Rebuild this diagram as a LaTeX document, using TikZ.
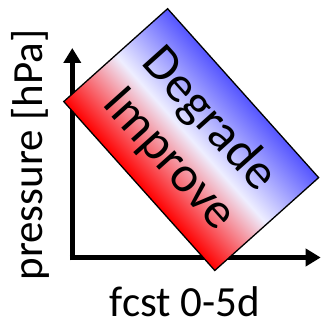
\documentclass[tikz,border=0pt]{standalone}
\usepackage{fontspec}
\setmainfont{Carlito}
\usetikzlibrary{arrows.meta}
\definecolor{myblue}{RGB}{85,85,255}
\definecolor{mymid}{RGB}{238,238,255}
\definecolor{myred}{RGB}{255,0,0}
\tikzset{
  axisline/.style={line width=5pt, -{Triangle[length=15pt,width=17pt]}},
  axislabel/.style={font=\fontsize{43}{50}\selectfont, inner sep=0pt, anchor=base},
  boxlabel/.style={font=\fontsize{51}{58}\selectfont, inner sep=0pt, anchor=base},
}
\begin{document}
\begin{tikzpicture}[x=1pt,y=1pt]
\useasboundingbox (0,0) rectangle (321,323);
\coordinate (o1) at (72.3,62.5);
\coordinate (ytip) at (72.3,275);
\coordinate (o2) at (69.8,65.5);
\coordinate (xtip) at (320.7,65.5);
\draw[axisline] (o1) -- (ytip);
\draw[axisline] (o2) -- (xtip);
\node[axislabel, rotate=90] (ylab) at (42,168) {pressure [hPa]};
\node[axislabel] (xlab) at (185,6.3) {fcst 0-5d};
\begin{scope}[transform canvas={shift={(191.2pt,183.4pt)}, rotate=-48.2}]
  \shade[draw=black, line width=1.3pt, top color=myblue, bottom color=myred, middle color=mymid]
    (-113.3,-69.65) rectangle (113.3,69.65);
  \node[boxlabel] (deg) at (-3,13) {Degrade};
  \node[boxlabel] (imp) at (0,-43.7) {Improve};
\end{scope}
\end{tikzpicture}
\end{document}
